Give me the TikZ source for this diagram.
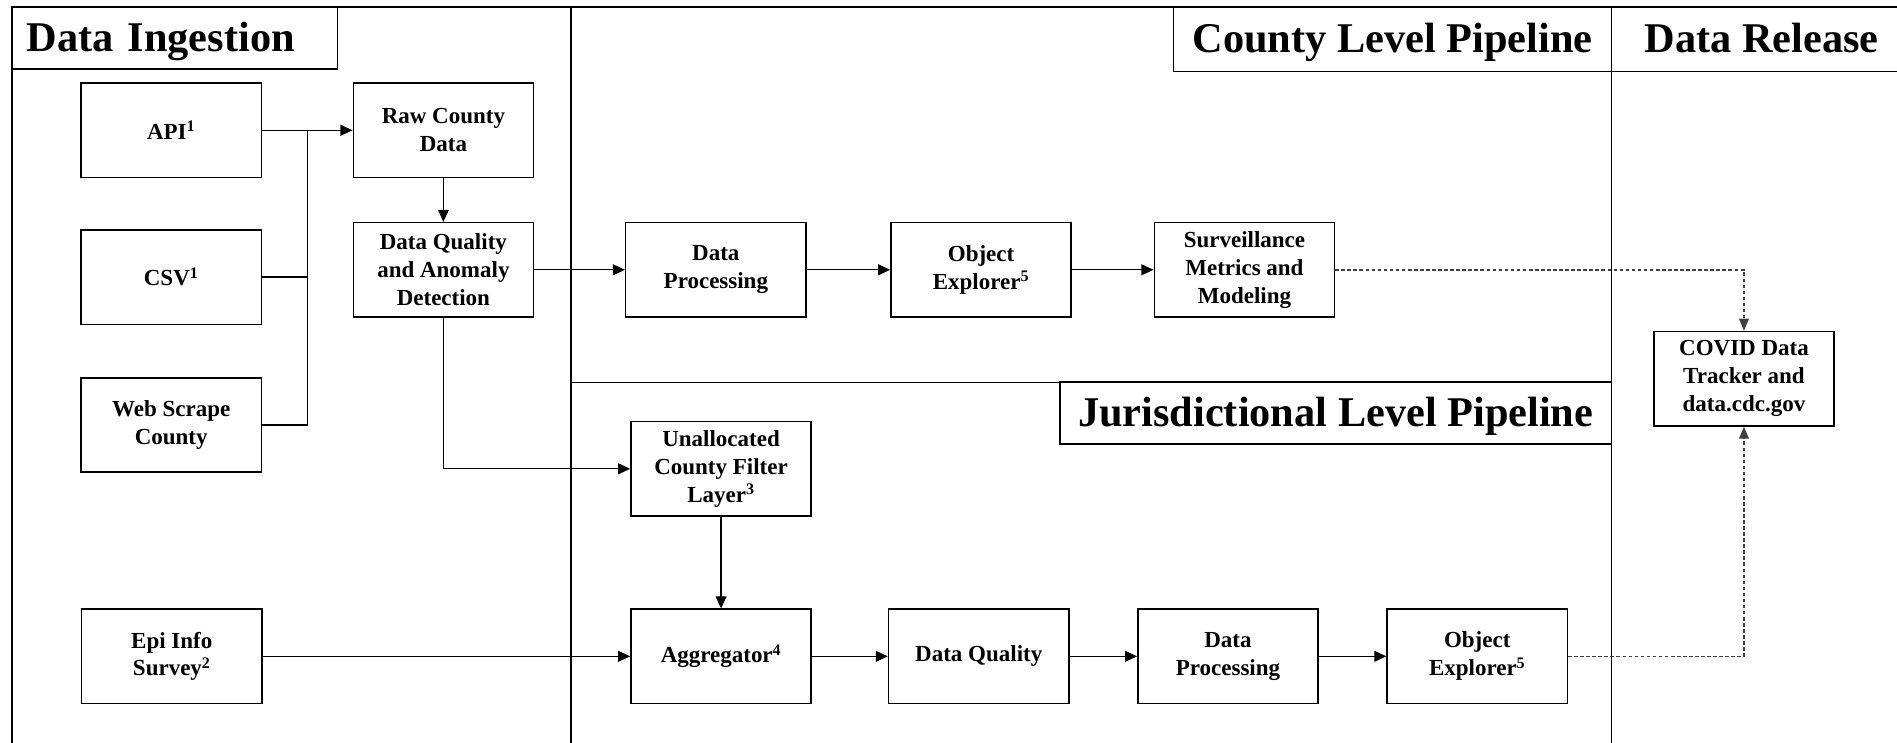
\documentclass[tikz,border=0pt]{standalone}
\usepackage{fontspec}
\setmainfont{Liberation Serif}
\usetikzlibrary{arrows.meta}

\begin{document}
\begin{tikzpicture}
  [x = 1pt, y = -1pt,
   box/.style = {draw, line width = 1.2pt, minimum width = 149pt, minimum height = 78pt,
                 align = center, inner sep = 2pt,
                 font = \fontsize{19}{23}\selectfont\bfseries},
   heading/.style = {draw, line width = 1.4pt, inner sep = 0pt, text height = 28pt, text depth = 6pt,
                 font = \fontsize{35}{40}\selectfont\bfseries},
   frame/.style = {line width = 1.3pt},
   wire/.style = {line width = 1pt},
   arr/.style = {line width = 1pt, -{Triangle[length=10pt, width=9pt]}},
   dotarr/.style = {line width = 1.3pt, black!75, dash pattern = on 3pt off 2pt,
                 -{Triangle[length=10pt, width=8pt]}}]
    \useasboundingbox (0,0) rectangle (1568,614);

    % lanes
    \draw[frame] (10,614) -- (10,6) -- (1568,6);
    \draw[frame] (472,6) -- (472,614);
    \draw[frame] (1332,6) -- (1332,614);
    \draw[frame] (472,316) -- (1332,316);
    \draw[frame] (1332,59) -- (1568,59);

    \node[heading, minimum width = 269pt, minimum height = 51pt, text width = 245pt, align = left]
      (ingest) at (144.5,31.5) {Data Ingestion};
    \node[heading, minimum width = 362pt, minimum height = 53pt] (county) at (1151,32.5) {County Level Pipeline};
    \node[heading, minimum width = 456pt, minimum height = 51pt] (juris) at (1104,341.5) {Jurisdictional Level Pipeline};
    \node[heading, draw = none] (relhead) at (1456,32.5) {Data Release};

    % ingestion
    \node[box] (api) at (141.5,107.7) {API\textsuperscript{1}};
    \node[box] (csv) at (141.5,229) {CSV\textsuperscript{1}};
    \node[box] (web) at (141.5,351.3) {Web Scrape\\County};
    \node[box] (epi) at (142,542.5) {Epi Info\\Survey\textsuperscript{2}};
    \node[box] (raw) at (366.5,107.7) {Raw County\\Data};
    \node[box] (dqa) at (366.5,223) {Data Quality\\and Anomaly\\Detection};
    \coordinate (bus) at (254,107.7);
    \draw[wire] (api.east) -- (bus);
    \draw[wire] (csv.east) -| (bus);
    \draw[wire] (web.east) -| (bus);
    \draw[arr] (bus) -- (raw.west);
    \draw[arr] (raw) -- (dqa);

    % county level
    \node[box] (cproc) at (591.7,223) {Data\\Processing};
    \node[box] (cobj) at (810.9,223) {Object\\Explorer\textsuperscript{5}};
    \node[box] (surv) at (1028.6,223) {Surveillance\\Metrics and\\Modeling};
    \draw[arr] (dqa) -- (cproc);
    \draw[arr] (cproc) -- (cobj);
    \draw[arr] (cobj) -- (surv);

    % jurisdictional level
    \node[box] (unalloc) at (596,387.5) {Unallocated\\County Filter\\Layer\textsuperscript{3}};
    \node[box] (aggr) at (596,542.5) {Aggregator\textsuperscript{4}};
    \node[box] (jqual) at (809,542.5) {Data Quality};
    \node[box] (jproc) at (1015,542.5) {Data\\Processing};
    \node[box] (jobj) at (1221,542.5) {Object\\Explorer\textsuperscript{5}};
    \draw[arr] (dqa.south) |- (unalloc.west);
    \draw[arr] (unalloc) -- (aggr);
    \draw[arr] (epi) -- (aggr);
    \draw[arr] (aggr) -- (jqual);
    \draw[arr] (jqual) -- (jproc);
    \draw[arr] (jproc) -- (jobj);

    % release
    \node[box] (covid) at (1441.5,313) {COVID Data\\Tracker and\\data.cdc.gov};
    \draw[dotarr] (surv.east) -| (covid.north);
    \draw[dotarr] (jobj.east) -| (covid.south);
\end{tikzpicture}
\end{document}
